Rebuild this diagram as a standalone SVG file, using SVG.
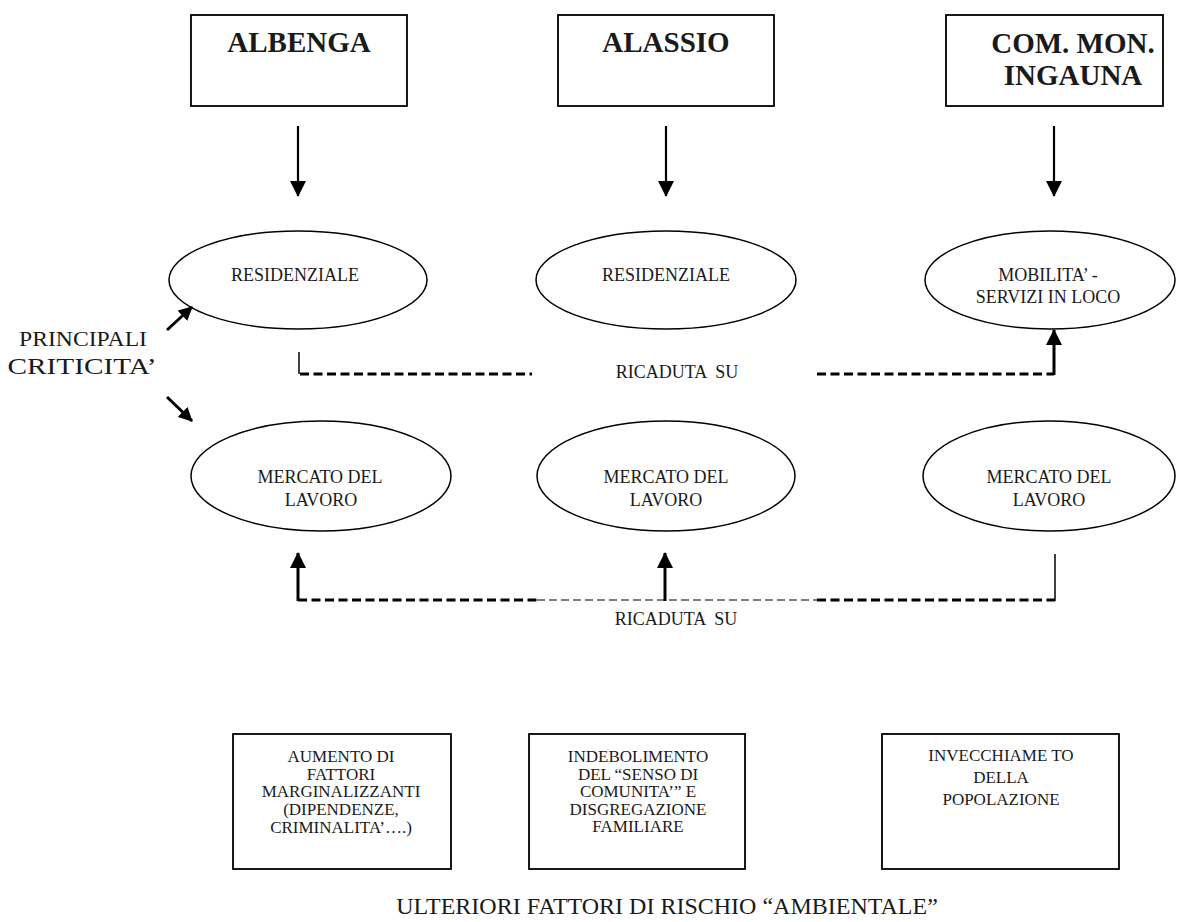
<svg xmlns="http://www.w3.org/2000/svg" width="1177" height="922" viewBox="0 0 1177 922">
<style>
.bx{fill:#fff;stroke:#000;stroke-width:1.8}
.el{fill:#fff;stroke:#000;stroke-width:1.5}
.t{font-family:"Liberation Serif",serif;fill:#1a1a1a;text-anchor:middle}
.hd{font-size:29px;font-weight:bold}
.et{font-size:18px}
.bt{font-size:17px}
.sol{stroke:#000;stroke-width:2.2;fill:none}
.thk{stroke:#000;stroke-width:3;fill:none}
.dk{stroke:#000;stroke-width:3;stroke-dasharray:9 4.5;fill:none}
.dt{stroke:#000;stroke-width:1.2;stroke-dasharray:8 4;fill:none}
.thin{stroke:#000;stroke-width:1.5;fill:none}
</style>
<defs>
<marker id="ah" markerUnits="userSpaceOnUse" markerWidth="16" markerHeight="16" refX="15" refY="8" orient="auto">
<path d="M0,0 L16,8 L0,16 z" fill="#000"/>
</marker>
<marker id="as" markerUnits="userSpaceOnUse" markerWidth="14" markerHeight="14" refX="13" refY="7" orient="auto">
<path d="M0,0 L14,7 L0,14 z" fill="#000"/>
</marker>
</defs>

<g id="box-albenga"><rect class="bx" x="191" y="15" width="216" height="91"/><text class="t hd" x="299" y="52">ALBENGA</text></g>
<g id="box-alassio"><rect class="bx" x="558" y="15" width="216" height="91"/><text class="t hd" x="666" y="52">ALASSIO</text></g>
<g id="box-common"><rect class="bx" x="946" y="15" width="217" height="91"/><text class="t hd" x="1073" y="53">COM. MON.</text><text class="t hd" x="1073" y="85">INGAUNA</text></g>

<g id="ell-res1"><ellipse class="el" cx="298" cy="280" rx="129" ry="49"/><text class="t et" x="295" y="281">RESIDENZIALE</text></g>
<g id="ell-res2"><ellipse class="el" cx="666" cy="280" rx="130" ry="49"/><text class="t et" x="666" y="281">RESIDENZIALE</text></g>
<g id="ell-mob"><ellipse class="el" cx="1050" cy="280" rx="125" ry="49"/><text class="t et" x="1048" y="281">MOBILITA’ -</text><text class="t et" x="1048" y="303">SERVIZI IN LOCO</text></g>

<g id="ell-lav1"><ellipse class="el" cx="321" cy="476" rx="130" ry="55"/><text class="t et" x="320" y="483">MERCATO DEL</text><text class="t et" x="321" y="506">LAVORO</text></g>
<g id="ell-lav2"><ellipse class="el" cx="666" cy="476" rx="129" ry="55"/><text class="t et" x="666" y="483">MERCATO DEL</text><text class="t et" x="666" y="506">LAVORO</text></g>
<g id="ell-lav3"><ellipse class="el" cx="1049" cy="476" rx="126" ry="55"/><text class="t et" x="1049" y="483">MERCATO DEL</text><text class="t et" x="1049" y="506">LAVORO</text></g>

<g id="label-principali"><text class="t" x="83" y="346" style="font-size:22px" textLength="128" lengthAdjust="spacingAndGlyphs">PRINCIPALI</text><text class="t" x="82" y="374" style="font-size:24px" textLength="149" lengthAdjust="spacingAndGlyphs">CRITICITA’</text></g>

<g id="box-aumento"><rect class="bx" x="233" y="734" width="218" height="135"/>
<text class="t bt" x="341" y="762">AUMENTO DI</text><text class="t bt" x="341" y="780">FATTORI</text><text class="t bt" x="341" y="797">MARGINALIZZANTI</text><text class="t bt" x="341" y="815">(DIPENDENZE,</text><text class="t bt" x="341" y="833">CRIMINALITA’….)</text></g>
<g id="box-indebolimento"><rect class="bx" x="529" y="734" width="216" height="135"/>
<text class="t bt" x="638" y="762">INDEBOLIMENTO</text><text class="t bt" x="638" y="780">DEL “SENSO DI</text><text class="t bt" x="638" y="797">COMUNITA’” E</text><text class="t bt" x="638" y="815">DISGREGAZIONE</text><text class="t bt" x="638" y="832">FAMILIARE</text></g>
<g id="box-invecchiamento"><rect class="bx" x="882" y="734" width="237" height="135"/>
<text class="t bt" x="1001" y="761">INVECCHIAME TO</text><text class="t bt" x="1001" y="783">DELLA</text><text class="t bt" x="1001" y="805">POPOLAZIONE</text></g>

<g id="label-ricaduta1"><text class="t et" x="677" y="378" xml:space="preserve">RICADUTA  SU</text></g>
<g id="label-ricaduta2"><text class="t et" x="676" y="625" xml:space="preserve">RICADUTA  SU</text></g>
<g id="label-ulteriori"><text class="t" x="667" y="914" style="font-size:24px">ULTERIORI FATTORI DI RISCHIO “AMBIENTALE”</text></g>

<g id="connectors">
<line class="sol" x1="298" y1="126" x2="298" y2="196" marker-end="url(#ah)"/>
<line class="sol" x1="666" y1="126" x2="666" y2="196" marker-end="url(#ah)"/>
<line class="sol" x1="1054" y1="126" x2="1054" y2="196" marker-end="url(#ah)"/>
<line class="thk" x1="167" y1="330" x2="192" y2="307" marker-end="url(#as)"/>
<line class="thk" x1="167" y1="397" x2="192" y2="421" marker-end="url(#as)"/>
<path class="thin" d="M299,352 V374"/>
<line class="dk" x1="300" y1="374" x2="532" y2="374"/>
<line class="dk" x1="817" y1="374" x2="1054" y2="374"/>
<line class="thk" x1="1054" y1="375" x2="1054" y2="330" marker-end="url(#ah)"/>
<line class="dk" x1="298" y1="600" x2="537" y2="600"/>
<line class="dt" x1="537" y1="600" x2="817" y2="600"/>
<line class="dk" x1="817" y1="600" x2="1055" y2="600"/>
<path class="thin" d="M1055,554 V601"/>
<line class="thk" x1="298" y1="601" x2="298" y2="553" marker-end="url(#ah)"/>
<line class="thk" x1="665" y1="601" x2="665" y2="553" marker-end="url(#ah)"/>
</g>
</svg>
